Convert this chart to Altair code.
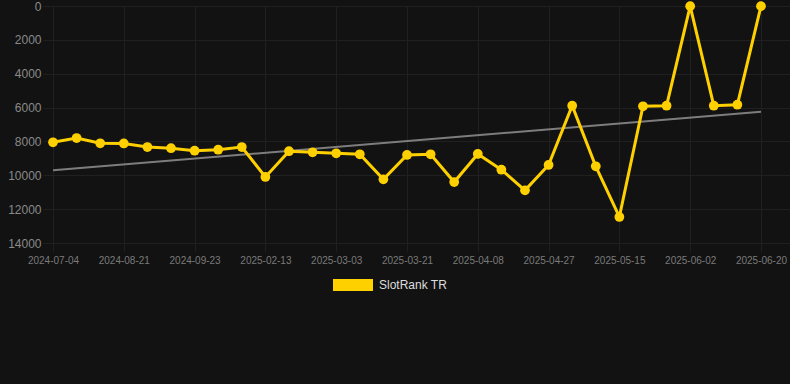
import altair as alt
import pandas as pd

# SlotRank TR values (rank, lower is better)
ranks = [8050, 7800, 8110, 8120, 8330, 8400, 8550, 8490, 8330, 10100,
         8580, 8640, 8700, 8760, 10240, 8800, 8760, 10400, 8740, 9670,
         10890, 9390, 5890, 9470, 12460, 5925, 5890, 10, 5890, 5830, 10]
tick_labels = ["2024-07-04", "2024-08-21", "2024-09-23", "2025-02-13", "2025-03-03",
               "2025-03-21", "2025-04-08", "2025-04-27", "2025-05-15", "2025-06-02",
               "2025-06-20"]
series_name = "SlotRank TR"

df = pd.DataFrame({"i": list(range(len(ranks))), "v": ranks, "s": [series_name] * len(ranks)})

YELLOW = "#ffd000"
GRID = "#202020"
label_arr = "[" + ",".join("'%s'" % t for t in tick_labels) + "]"

x_enc = alt.X("i:Q", scale=alt.Scale(domain=[-0.424, 31.23], nice=False, zero=False),
              axis=alt.Axis(values=list(range(0, 31, 3)), labelExpr=label_arr + "[round(datum.value/3)]",
                            title=None, grid=True, gridColor=GRID, domain=False,
                            ticks=True, tickColor=GRID, tickSize=8, labelPadding=4,
                            labelFontSize=10, labelColor="#7a7a7a", labelFlush=False,
                            labelOverlap=False, labelFont="Liberation Sans"))
y_enc = alt.Y("v:Q", scale=alt.Scale(domain=[0, 14000], reverse=True, nice=False),
              axis=alt.Axis(values=list(range(0, 14001, 2000)), format="d", title=None, grid=True,
                            gridColor=GRID, domain=False, ticks=False, labelPadding=2,
                            labelFontSize=12, labelColor="#8a8a8a", labelFlush=False,
                            labelFont="Liberation Sans"))

base = alt.Chart(df)

trend = base.transform_regression("i", "v").mark_line(color="#7d7d7d", strokeWidth=2).encode(
    x=x_enc, y=y_enc)

line = base.mark_line(strokeWidth=3, point=alt.OverlayMarkDef(filled=True, size=95, opacity=1)).encode(
    x=x_enc, y=y_enc,
    color=alt.Color("s:N", scale=alt.Scale(domain=[series_name], range=[YELLOW]),
                    legend=alt.Legend(title=None, orient="none", legendX=290, legendY=259,
                                      symbolType="M-1,-0.3H1V0.3H-1Z", symbolSize=1600,
                                      symbolFillColor=YELLOW, symbolStrokeColor=YELLOW,
                                      symbolStrokeWidth=0, symbolOpacity=1,
                                      labelColor="#dddddd", labelFontSize=12,
                                      labelFont="Liberation Sans", labelOffset=6,
                                      padding=0)))

chart = alt.layer(trend, line).properties(
    width=747, height=237,
    background="#121212",
    padding={"left": 43, "top": 6, "right": 0, "bottom": 141},
    autosize=alt.AutoSizeParams(type="none"),
).configure_view(stroke=None)

chart.save("out.html", embed_options={"renderer": "svg", "actions": False})
